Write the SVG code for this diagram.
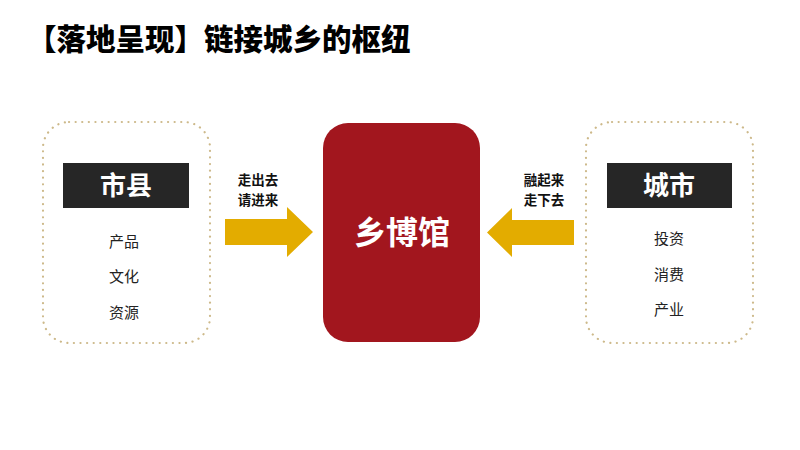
<svg xmlns="http://www.w3.org/2000/svg" width="800" height="450" viewBox="0 0 800 450">
<defs>
<style>
text{font-family:"Noto Sans CJK SC","Noto Sans",sans-serif;}
.title{font-size:29.5px;font-weight:900;fill:#000;}
.frame{fill:none;stroke:#cdb98a;stroke-width:2.2;stroke-dasharray:0.1 6.5;stroke-linecap:round;}
.tag{fill:#262626;}
.tagtxt{font-size:26px;font-weight:bold;fill:#fff;text-anchor:middle;}
.item{font-size:15px;fill:#222;text-anchor:middle;}
.arrow{fill:#e3ac00;}
.albl{font-size:13.5px;font-weight:bold;fill:#111;text-anchor:middle;}
.hub{fill:#a2161e;}
.hubtxt{font-size:32px;font-weight:bold;fill:#fff;text-anchor:middle;}
</style>
</defs>
<rect width="800" height="450" fill="#fff"/>
<text class="title" x="27" y="50">【落地呈现】链接城乡的枢纽</text>

<g id="node-shixian">
<rect class="frame" x="43" y="122" width="167" height="221" rx="26"/>
<rect class="tag" x="63" y="163" width="126" height="45"/>
<text class="tagtxt" x="126" y="195">市县</text>
<text class="item" x="124" y="247">产品</text>
<text class="item" x="124" y="282">文化</text>
<text class="item" x="124" y="318">资源</text>
</g>

<g id="node-hub">
<rect class="hub" x="323" y="123" width="157" height="219" rx="25"/>
<text class="hubtxt" x="402" y="244">乡博馆</text>
</g>

<g id="node-city">
<rect class="frame" x="586" y="122" width="167" height="221" rx="26"/>
<rect class="tag" x="607" y="163" width="125" height="45"/>
<text class="tagtxt" x="669" y="195">城市</text>
<text class="item" x="669" y="244">投资</text>
<text class="item" x="669" y="280">消费</text>
<text class="item" x="669" y="315">产业</text>
</g>

<g id="connectors">
<polygon class="arrow" points="225,219 287,219 287,207 313,232 287,257 287,245 225,245"/>
<text class="albl" x="258" y="185">走出去</text>
<text class="albl" x="258" y="204.5">请进来</text>
<polygon class="arrow" points="574,220 512,220 512,208 487,232.5 512,257 512,245 574,245"/>
<text class="albl" x="544" y="185">融起来</text>
<text class="albl" x="544" y="204.5">走下去</text>
</g>
</svg>
